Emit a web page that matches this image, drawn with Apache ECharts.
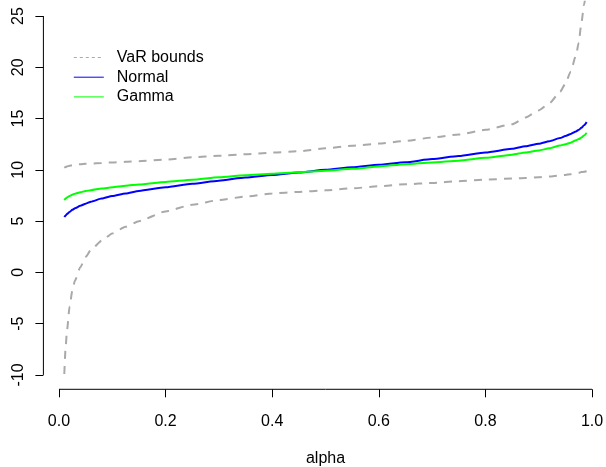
<!DOCTYPE html>
<html>
<head>
<meta charset="utf-8">
<script src="https://cdn.jsdelivr.net/npm/echarts@6/dist/echarts.min.js"></script>
<style>
  html, body { margin: 0; padding: 0; background: #fff; }
  #chart { width: 606px; height: 467px; }
</style>
</head>
<body>
<div id="chart"></div>
<script>
// Confidence level grid
const alpha = [0.01, 0.0125, 0.015, 0.02, 0.025, 0.03, 0.04, 0.05, 0.06, 0.08, 0.1, 0.125, 0.15,
  0.2, 0.25, 0.3, 0.35, 0.4, 0.45, 0.5, 0.55, 0.6, 0.65, 0.7, 0.75, 0.8, 0.85, 0.875, 0.9,
  0.92, 0.94, 0.95, 0.96, 0.97, 0.975, 0.98, 0.985, 0.99];

// Upper and lower VaR bounds
const varUpper = [10.2, 10.28, 10.33, 10.4, 10.45, 10.5, 10.55, 10.6, 10.62, 10.68, 10.72, 10.78, 10.85,
  11.0, 11.22, 11.37, 11.52, 11.68, 11.82, 12.1, 12.35, 12.56, 12.82, 13.15, 13.45, 13.9, 14.45, 15.1, 15.8,
  16.5, 17.6, 18.4, 19.6, 21.2, 22.4, 24.3, 26.1, 28.0];
const varLower = [-9.9, -7.3, -5.7, -3.3, -1.8, -0.8, 0.5, 1.5, 2.2, 3.1, 3.8, 4.45, 5.0,
  5.95, 6.6, 7.05, 7.4, 7.7, 7.85, 8.0, 8.2, 8.4, 8.6, 8.72, 8.9, 9.05, 9.15, 9.2, 9.28,
  9.35, 9.45, 9.5, 9.58, 9.68, 9.72, 9.78, 9.82, 9.87];

// VaR under the fitted models
const normalVaR = [5.4, 5.55, 5.7, 5.9, 6.1, 6.25, 6.5, 6.7, 6.9, 7.2, 7.45, 7.7, 7.95,
  8.3, 8.65, 8.95, 9.25, 9.5, 9.75, 10.0, 10.25, 10.5, 10.75, 11.05, 11.35, 11.7, 12.05, 12.3, 12.55,
  12.8, 13.1, 13.3, 13.5, 13.75, 13.9, 14.1, 14.35, 14.65];
const gammaVaR = [7.05, 7.2, 7.3, 7.45, 7.58, 7.68, 7.82, 7.93, 8.02, 8.18, 8.3, 8.45, 8.58,
  8.82, 9.04, 9.27, 9.47, 9.62, 9.77, 9.92, 10.1, 10.33, 10.55, 10.72, 10.9, 11.17, 11.48, 11.7, 11.9,
  12.1, 12.38, 12.5, 12.65, 12.9, 13.0, 13.15, 13.35, 13.6];

// Axis ticks and plotting ranges
const xTicks = [0, 0.2, 0.4, 0.6, 0.8, 1.0];
const yTicks = [-10, -5, 0, 5, 10, 15, 20, 25];
const xRange = [-0.0292, 1.0292];
const yRange = [-11.4, 26.4];

const FONT = 'Liberation Sans, Arial, sans-serif';
const pairs = ys => alpha.map((a, i) => [a, ys[i]]);

const chart = echarts.init(document.getElementById('chart'), null, { renderer: 'canvas' });

const curve = (name, ys, color, dashed) => ({
  name: name,
  type: 'line',
  data: pairs(ys),
  showSymbol: false,
  symbol: 'none',
  smooth: 0.2,
  smoothMonotone: 'x',
  clip: true,
  lineStyle: { color: color, width: 2, type: dashed ? [8, 7] : 'solid' },
  itemStyle: { color: color },
  emphasis: { disabled: true },
  z: 3
});

// plain black segment used for the axis lines, which only span the tick range
const axisSegment = (points) => ({
  name: 'axis',
  type: 'line',
  data: points,
  showSymbol: false,
  symbol: 'none',
  clip: false,
  silent: true,
  lineStyle: { color: '#000', width: 1, type: 'solid' },
  emphasis: { disabled: true },
  z: 2
});

const hiddenMarker = { opacity: 0 };

chart.setOption({
  animation: false,
  backgroundColor: '#ffffff',
  textStyle: { fontFamily: FONT },
  grid: { left: 43.4, right: -1.6, top: 1.7, bottom: 77.7, containLabel: false, outerBoundsMode: 'none' },
  legend: {
    orient: 'vertical',
    left: 73.3,
    top: 49.5,
    padding: 0,
    itemWidth: 30,
    itemHeight: 16,
    itemGap: 3.7,
    selectedMode: false,
    textStyle: { fontFamily: FONT, fontSize: 16, color: '#000', lineHeight: 16, padding: [0, 0, 0, 8] },
    data: [
      { name: 'VaR bounds', itemStyle: hiddenMarker, lineStyle: { width: 1, type: [3, 3], color: '#A9A9A9' } },
      { name: 'Normal', itemStyle: hiddenMarker, lineStyle: { width: 1, color: '#0000FF' } },
      { name: 'Gamma', itemStyle: hiddenMarker, lineStyle: { width: 1, color: '#00FF00' } }
    ]
  },
  xAxis: {
    type: 'value',
    min: xRange[0],
    max: xRange[1],
    name: 'alpha',
    nameLocation: 'middle',
    nameGap: 61,
    nameTextStyle: { fontFamily: FONT, fontSize: 16, color: '#000' },
    splitLine: { show: false },
    axisLine: { show: false, onZero: false },
    axisTick: { show: true, customValues: xTicks, length: 8, inside: false,
      lineStyle: { color: '#000', width: 1 } },
    axisLabel: { show: true, customValues: xTicks, margin: 24, fontFamily: FONT, fontSize: 16, color: '#000',
      formatter: v => v.toFixed(1) }
  },
  yAxis: {
    type: 'value',
    min: yRange[0],
    max: yRange[1],
    splitLine: { show: false },
    axisLine: { show: false, onZero: false },
    axisTick: { show: true, customValues: yTicks, length: 8, inside: false,
      lineStyle: { color: '#000', width: 1 } },
    axisLabel: { show: true, customValues: yTicks, rotate: 90, margin: 17, fontFamily: FONT, fontSize: 16,
      color: '#000', formatter: v => String(v) }
  },
  series: [
    curve('VaR bounds', varUpper, '#A9A9A9', true),
    curve('VaR bounds', varLower, '#A9A9A9', true),
    curve('Normal', normalVaR, '#0000FF', false),
    curve('Gamma', gammaVaR, '#00FF00', false),
    axisSegment([[xRange[0], yTicks[0]], [xRange[0], yTicks[yTicks.length - 1]]]),
    axisSegment([[xTicks[0], yRange[0]], [xTicks[xTicks.length - 1], yRange[0]]])
  ]
});
</script>
</body>
</html>
